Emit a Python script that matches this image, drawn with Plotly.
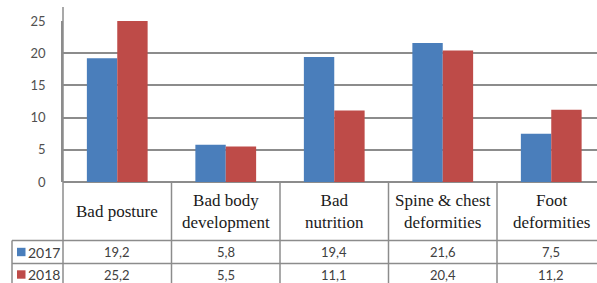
import plotly.graph_objects as go

categories = ["Bad posture", "Bad body development", "Bad nutrition",
              "Spine & chest deformities", "Foot deformities"]
header_labels = ["Bad posture", "Bad body<br>development", "Bad<br>nutrition",
                 "Spine & chest<br>deformities", "Foot<br>deformities"]
series_names = ["2017", "2018"]
values_2017 = [19.2, 5.8, 19.4, 21.6, 7.5]
values_2018 = [25.2, 5.5, 11.1, 20.4, 11.2]
y_ticks = [0, 5, 10, 15, 20, 25]

colors = ["#4a7ebb", "#be4b48"]
grid = "#8c8c8c"
serif = "Liberation Serif, Times New Roman, DejaVu Serif, serif"
sans = "Lato, Liberation Sans, sans-serif"

W, H = 597, 283
L, R, T, B = 63, 0, 21, 101
pw, ph = W - L - R, H - T - B

def py(p):  # pixel y -> paper y
    return (H - B - p) / ph

def px(p):  # pixel x -> paper x
    return (p - L) / pw

fig = go.Figure()
idx = list(range(len(categories)))
for name, vals, c in zip(series_names, [values_2017, values_2018], colors):
    fig.add_trace(go.Bar(x=idx, y=vals, name=name, marker=dict(color=c, line=dict(width=0))))

shapes = []
annotations = []
# horizontal table lines
for yy in [240.5, 263.5]:
    shapes.append(dict(type="line", xref="paper", yref="paper", x0=px(12), x1=1.0,
                       y0=py(yy), y1=py(yy), line=dict(color=grid, width=1.5)))
# left border of legend column
shapes.append(dict(type="line", xref="paper", yref="paper", x0=px(12), x1=px(12),
                   y0=py(240.5), y1=py(290), line=dict(color=grid, width=1.5)))
# axis line extended above the plot and down through table
shapes.append(dict(type="line", xref="paper", yref="paper", x0=0, x1=0,
                   y0=py(7), y1=py(290), line=dict(color=grid, width=1.5)))
# category boundaries
for i in idx[:-1]:
    shapes.append(dict(type="line", xref="x", yref="paper", x0=i + 0.5, x1=i + 0.5,
                       y0=0, y1=py(290), line=dict(color=grid, width=1.5)))

# header labels
for i, lab in zip(idx, header_labels):
    annotations.append(dict(x=i, xref="x", y=py(211), yref="paper", text=lab,
                            showarrow=False, xanchor="center", yanchor="middle",
                            font=dict(family=serif, size=17, color="#1a1a1a")))
# values rows + legend keys
row_centers = [252, 274.5]
for name, vals, c, rc in zip(series_names, [values_2017, values_2018], colors, row_centers):
    for i, v in zip(idx, vals):
        annotations.append(dict(x=i, xref="x", y=py(rc), yref="paper",
                                text=f"{v:.1f}".replace(".", ","), showarrow=False,
                                xanchor="center", yanchor="middle",
                                font=dict(family=sans, size=13, color="#404040")))
    shapes.append(dict(type="rect", xref="paper", yref="paper", x0=px(17), x1=px(25.5),
                       y0=py(rc - 4.2), y1=py(rc + 4.2), fillcolor=c, line=dict(width=0)))
    annotations.append(dict(x=px(25.5), xref="paper", y=py(rc), yref="paper", text=name,
                            showarrow=False, xanchor="left", yanchor="middle",
                            font=dict(family=sans, size=14, color="#404040")))

fig.update_layout(
    width=W, height=H,
    margin=dict(l=L, r=R, t=T, b=B, pad=0),
    paper_bgcolor="white", plot_bgcolor="white",
    barmode="group", bargap=0.44, bargroupgap=0,
    showlegend=False,
    shapes=shapes, annotations=annotations,
    xaxis=dict(range=[-0.5, -0.5 + pw / 108.5], showticklabels=False, showgrid=False,
               zeroline=False, showline=False, ticks="", fixedrange=True),
    yaxis=dict(range=[0, 25], tickvals=y_ticks, showgrid=True, gridcolor=grid, gridwidth=1.5,
               zeroline=True, zerolinecolor=grid, zerolinewidth=1.5,
               showline=True, linecolor=grid, linewidth=1.5, ticks="",
               ticklabelstandoff=13,
               tickfont=dict(family=sans, size=13, color="#505050"), fixedrange=True),
)

fig.write_html("out.html", config={"displayModeBar": False},
               post_script="document.body.style.margin='0';document.body.style.overflow='hidden';")
